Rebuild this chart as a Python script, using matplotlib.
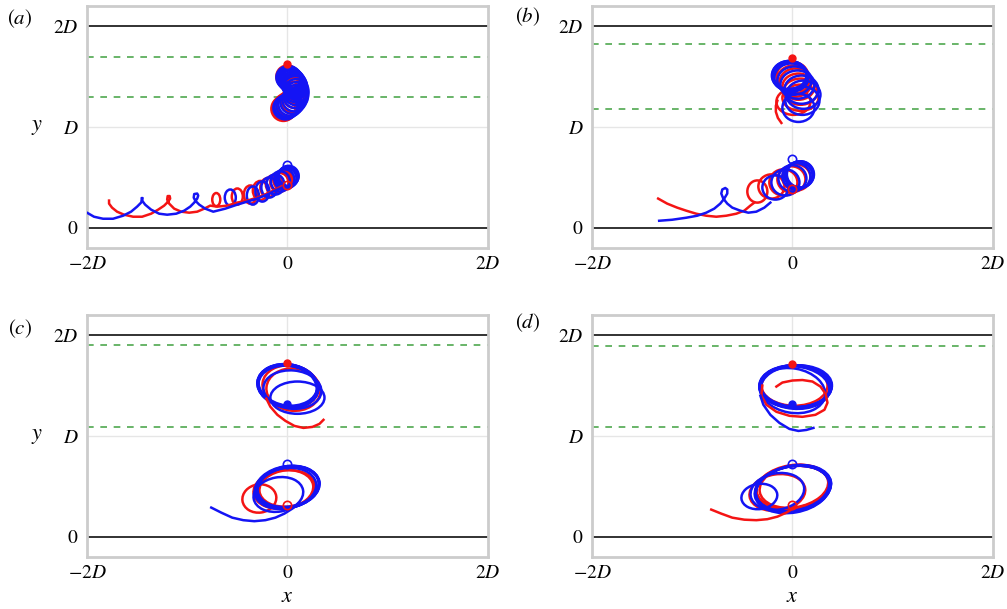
import numpy as np
import matplotlib.pyplot as plt
from matplotlib.patches import Ellipse

plt.rcParams['mathtext.fontset'] = 'stix'
plt.rcParams['font.family'] = 'STIXGeneral'

RED = '#f41414'
BLUE = '#1414f4'

# ---- panel (a) ----
# open parts of the paths (x, y) in units of D
a_low_blue_path = [(-2.00, 0.15), (-1.93, 0.11), (-1.84, 0.09), (-1.74, 0.09), (-1.64, 0.12),
                   (-1.56, 0.16), (-1.50, 0.21), (-1.46, 0.25), (-1.45, 0.28), (-1.445, 0.295),
                   (-1.455, 0.295), (-1.45, 0.27), (-1.42, 0.23), (-1.36, 0.18), (-1.28, 0.14),
                   (-1.20, 0.13), (-1.11, 0.14), (-1.03, 0.17), (-0.97, 0.21), (-0.93, 0.25),
                   (-0.90, 0.29), (-0.89, 0.32), (-0.90, 0.34), (-0.93, 0.335), (-0.935, 0.30),
                   (-0.92, 0.27), (-0.88, 0.23), (-0.82, 0.19), (-0.74, 0.16), (-0.62, 0.19),
                   (-0.50, 0.23), (-0.40, 0.26), (-0.30, 0.29), (-0.20, 0.33), (-0.12, 0.37),
                   (-0.05, 0.40)]
a_low_red_path = [(-1.78, 0.27), (-1.78, 0.24), (-1.75, 0.20), (-1.70, 0.16), (-1.63, 0.13),
                  (-1.54, 0.11), (-1.45, 0.11), (-1.36, 0.14), (-1.29, 0.18), (-1.23, 0.22),
                  (-1.19, 0.26), (-1.17, 0.29), (-1.175, 0.315), (-1.195, 0.315), (-1.20, 0.28),
                  (-1.18, 0.24), (-1.13, 0.19), (-1.06, 0.16), (-0.98, 0.15), (-0.90, 0.16),
                  (-0.83, 0.19), (-0.77, 0.22), (-0.70, 0.21), (-0.60, 0.22), (-0.50, 0.25),
                  (-0.40, 0.27), (-0.30, 0.30), (-0.20, 0.34), (-0.12, 0.38), (-0.06, 0.41)]
# loops (cx, cy, rx, ry, angle)
a_low_blue_loops = [(-0.57, 0.30, 0.055, 0.08, 0), (-0.345, 0.32, 0.06, 0.09, 0),
                    (-0.25, 0.36, 0.07, 0.10, 0), (-0.18, 0.40, 0.08, 0.10, 0),
                    (-0.12, 0.43, 0.09, 0.10, 0), (-0.07, 0.46, 0.095, 0.10, 0),
                    (-0.03, 0.48, 0.10, 0.10, 0), (-0.01, 0.49, 0.10, 0.10, 0),
                    (0.00, 0.50, 0.10, 0.10, 0), (0.005, 0.505, 0.10, 0.10, 0),
                    (0.01, 0.51, 0.10, 0.10, 0), (0.012, 0.515, 0.10, 0.10, 0)]
a_low_red_loops = [(-0.71, 0.28, 0.04, 0.065, 0), (-0.50, 0.31, 0.055, 0.08, 0),
                   (-0.37, 0.33, 0.065, 0.09, 0), (-0.27, 0.37, 0.075, 0.095, 0),
                   (-0.19, 0.40, 0.08, 0.095, 0), (-0.13, 0.43, 0.085, 0.095, 0),
                   (-0.08, 0.45, 0.09, 0.095, 0), (-0.05, 0.47, 0.09, 0.09, 0),
                   (-0.03, 0.48, 0.085, 0.085, 0)]
a_up_blue_loops = [(0.01, 1.49, 0.12, 0.115, 0), (0.02, 1.48, 0.12, 0.115, 0),
                   (0.03, 1.47, 0.12, 0.115, 0), (0.04, 1.46, 0.12, 0.115, 0),
                   (0.05, 1.45, 0.12, 0.115, 0), (0.06, 1.435, 0.12, 0.115, 0),
                   (0.07, 1.42, 0.12, 0.115, 0), (0.075, 1.405, 0.12, 0.115, 0),
                   (0.08, 1.39, 0.12, 0.115, 0), (0.09, 1.36, 0.12, 0.115, 0),
                   (0.09, 1.33, 0.12, 0.115, 0), (0.085, 1.30, 0.12, 0.115, 0),
                   (0.07, 1.27, 0.12, 0.115, 0), (0.05, 1.245, 0.12, 0.115, 0),
                   (0.03, 1.225, 0.12, 0.115, 0), (0.01, 1.21, 0.12, 0.115, 0),
                   (-0.01, 1.20, 0.12, 0.115, 0), (-0.02, 1.19, 0.12, 0.115, 0)]
a_up_red_loops = [(0.00, 1.50, 0.11, 0.11, 0), (0.03, 1.46, 0.11, 0.11, 0),
                  (0.06, 1.42, 0.11, 0.11, 0), (0.075, 1.38, 0.11, 0.11, 0),
                  (0.08, 1.34, 0.11, 0.11, 0), (0.07, 1.30, 0.11, 0.11, 0),
                  (0.05, 1.26, 0.115, 0.115, 0), (0.02, 1.23, 0.12, 0.12, 0),
                  (-0.01, 1.21, 0.12, 0.12, 0), (-0.03, 1.19, 0.12, 0.12, 0),
                  (-0.04, 1.18, 0.12, 0.12, 0)]

# ---- panel (b) ----
b_up_red_path = [(-0.11, 1.04), (-0.145, 1.09), (-0.165, 1.15), (-0.165, 1.21), (-0.15, 1.26)]
b_up_blue_loops = [(0.06, 1.19, 0.16, 0.14, 0), (0.10, 1.26, 0.17, 0.14, 0),
                   (0.11, 1.32, 0.17, 0.14, 0), (0.09, 1.37, 0.17, 0.14, 0),
                   (0.05, 1.42, 0.17, 0.14, 0), (0.02, 1.46, 0.17, 0.14, 0),
                   (-0.01, 1.49, 0.17, 0.14, 0), (-0.02, 1.50, 0.175, 0.145, 0),
                   (-0.025, 1.505, 0.175, 0.145, 0), (-0.03, 1.51, 0.175, 0.145, 0),
                   (-0.03, 1.515, 0.17, 0.14, 0)]
b_up_red_loops = [(0.01, 1.25, 0.17, 0.13, 0), (0.08, 1.29, 0.18, 0.13, 0),
                  (0.08, 1.35, 0.17, 0.13, 0), (0.06, 1.40, 0.16, 0.13, 0),
                  (0.03, 1.44, 0.16, 0.14, 0), (0.01, 1.47, 0.16, 0.14, 0),
                  (0.00, 1.50, 0.16, 0.145, 0)]
b_low_blue_path = [(-1.33, 0.07), (-1.20, 0.08), (-1.06, 0.10), (-0.95, 0.12), (-0.86, 0.15),
                   (-0.78, 0.19), (-0.72, 0.24), (-0.68, 0.29), (-0.65, 0.34), (-0.65, 0.38),
                   (-0.67, 0.395), (-0.70, 0.38), (-0.71, 0.34), (-0.69, 0.29), (-0.65, 0.24),
                   (-0.60, 0.20), (-0.52, 0.17), (-0.44, 0.15), (-0.36, 0.16), (-0.28, 0.20),
                   (-0.22, 0.25)]
b_low_red_path = [(-1.34, 0.29), (-1.25, 0.24), (-1.15, 0.20), (-1.06, 0.17), (-0.96, 0.14),
                  (-0.86, 0.12), (-0.76, 0.11), (-0.66, 0.12), (-0.56, 0.14), (-0.48, 0.17),
                  (-0.42, 0.22), (-0.38, 0.25)]
b_low_blue_loops = [(-0.17, 0.40, 0.13, 0.12, 0), (-0.07, 0.45, 0.14, 0.13, 0),
                    (0.00, 0.49, 0.14, 0.13, 0), (0.04, 0.51, 0.14, 0.13, 0),
                    (0.06, 0.52, 0.14, 0.13, 0), (0.07, 0.525, 0.14, 0.13, 0),
                    (0.075, 0.53, 0.135, 0.13, 0), (0.08, 0.53, 0.135, 0.13, 0)]
b_low_red_loops = [(-0.35, 0.36, 0.10, 0.11, 0), (-0.21, 0.41, 0.13, 0.12, 0),
                   (-0.09, 0.45, 0.14, 0.13, 0), (-0.01, 0.48, 0.14, 0.13, 0),
                   (0.04, 0.50, 0.14, 0.13, 0)]

# ---- panel (c) ----
c_up_red_path = [(0.36, 1.16), (0.32, 1.12), (0.25, 1.09), (0.16, 1.08), (0.07, 1.10),
                 (-0.02, 1.15), (-0.10, 1.21), (-0.17, 1.29), (-0.21, 1.37)]
c_up_blue_loops = [(0.10, 1.38, 0.27, 0.16, 0), (0.05, 1.46, 0.29, 0.19, -5),
                   (0.01, 1.49, 0.30, 0.205, -8), (0.00, 1.50, 0.30, 0.21, -8),
                   (0.00, 1.505, 0.30, 0.205, -6), (0.005, 1.50, 0.305, 0.21, -9),
                   (0.00, 1.495, 0.295, 0.205, -10), (0.01, 1.50, 0.30, 0.20, -10)]
c_up_red_loops = [(0.06, 1.46, 0.27, 0.21, -5), (0.03, 1.49, 0.28, 0.21, -8)]
c_low_blue_path = [(-0.76, 0.29), (-0.66, 0.24), (-0.55, 0.19), (-0.44, 0.165), (-0.33, 0.155),
                   (-0.22, 0.165), (-0.12, 0.19), (-0.03, 0.23), (0.05, 0.28), (0.11, 0.33)]
c_low_blue_loops = [(-0.09, 0.42, 0.25, 0.17, 10), (-0.02, 0.48, 0.31, 0.20, 10),
                    (0.00, 0.49, 0.32, 0.20, 10), (0.00, 0.49, 0.315, 0.205, 12),
                    (0.01, 0.49, 0.315, 0.20, 11), (0.00, 0.495, 0.32, 0.205, 9),
                    (0.01, 0.50, 0.31, 0.20, 10)]
c_low_red_loops = [(-0.28, 0.38, 0.17, 0.14, 8), (-0.04, 0.47, 0.30, 0.19, 8),
                   (0.00, 0.48, 0.28, 0.18, 6)]

# ---- panel (d) ----
d_up_blue_path = [(0.21, 1.08), (0.14, 1.06), (0.06, 1.05), (-0.03, 1.07), (-0.13, 1.13),
                  (-0.22, 1.21), (-0.29, 1.31), (-0.32, 1.40)]
d_up_red_path = [(-0.16, 1.49), (-0.10, 1.53), (0.00, 1.55), (0.10, 1.555), (0.20, 1.54),
                 (0.28, 1.49), (0.33, 1.42), (0.35, 1.33), (0.32, 1.26), (0.23, 1.21),
                 (0.10, 1.19), (-0.03, 1.20), (-0.16, 1.24), (-0.26, 1.31), (-0.31, 1.40),
                 (-0.30, 1.50)]
d_up_blue_loops = [(0.00, 1.45, 0.33, 0.22, -10), (0.02, 1.48, 0.35, 0.21, -5),
                   (0.03, 1.49, 0.36, 0.21, 0), (0.03, 1.49, 0.36, 0.205, 1),
                   (0.035, 1.492, 0.355, 0.21, -1), (0.03, 1.495, 0.35, 0.205, -3),
                   (0.04, 1.49, 0.355, 0.21, 3)]
d_up_red_loops = [(0.02, 1.50, 0.33, 0.20, 0), (0.03, 1.49, 0.34, 0.21, 0)]
d_low_red_path = [(-0.81, 0.27), (-0.71, 0.23), (-0.60, 0.19), (-0.48, 0.17), (-0.36, 0.165),
                  (-0.25, 0.175), (-0.15, 0.20), (-0.06, 0.24), (0.02, 0.29)]
d_low_blue_loops = [(-0.33, 0.40, 0.18, 0.125, 8), (-0.15, 0.45, 0.27, 0.18, 10),
                    (0.00, 0.48, 0.37, 0.22, 10), (0.01, 0.48, 0.38, 0.22, 10),
                    (0.005, 0.475, 0.375, 0.225, 9), (0.01, 0.48, 0.38, 0.225, 11),
                    (0.00, 0.47, 0.38, 0.23, 10)]
d_low_red_loops = [(-0.15, 0.44, 0.28, 0.18, 8), (0.00, 0.50, 0.36, 0.21, 9),
                   (0.02, 0.50, 0.35, 0.21, 9), (0.00, 0.49, 0.37, 0.21, 8)]

# start markers: (red filled y, blue filled y, blue open y, red open y)
markers_y = {'a': (1.62, 1.42, 0.62, 0.42), 'b': (1.68, 1.36, 0.68, 0.38),
             'c': (1.72, 1.32, 0.72, 0.32), 'd': (1.71, 1.32, 0.72, 0.32)}
# green dashed lines per panel
green_y = {'a': (1.69, 1.30), 'b': (1.82, 1.18), 'c': (1.90, 1.09), 'd': (1.89, 1.09)}

xticks = [-2, 0, 2]
xticklabels = ['$-2D$', '$0$', '$2D$']
yticks = [0, 1, 2]
yticklabels = ['$0$', '$D$', '$2D$']

panels = {
    'a': dict(paths=[(a_low_red_path, RED), (a_low_blue_path, BLUE)],
              loops=[(a_up_red_loops, RED), (a_up_blue_loops, BLUE),
                     (a_low_red_loops, RED), (a_low_blue_loops, BLUE)]),
    'b': dict(paths=[(b_up_red_path, RED), (b_low_red_path, RED), (b_low_blue_path, BLUE)],
              loops=[(b_up_red_loops, RED), (b_up_blue_loops, BLUE),
                     (b_low_red_loops, RED), (b_low_blue_loops, BLUE)]),
    'c': dict(paths=[(c_up_red_path, RED), (c_low_blue_path, BLUE)],
              loops=[(c_up_red_loops, RED), (c_up_blue_loops, BLUE),
                     (c_low_red_loops, RED), (c_low_blue_loops, BLUE)]),
    'd': dict(paths=[(d_up_red_path, RED), (d_up_blue_path, BLUE), (d_low_red_path, RED)],
              loops=[(d_up_red_loops, RED), (d_up_blue_loops, BLUE),
                     (d_low_red_loops, RED), (d_low_blue_loops, BLUE)]),
}

fig = plt.figure(figsize=(10.07, 6.09), dpi=100)
pos = {'a': [0.0864, 0.5928, 0.398, 0.3974], 'b': [0.5879, 0.5928, 0.398, 0.3974],
       'c': [0.0864, 0.0854, 0.398, 0.3974], 'd': [0.5879, 0.0854, 0.398, 0.3974]}
label_pos = {'a': (0.020, 0.970), 'b': (0.524, 0.972), 'c': (0.020, 0.461), 'd': (0.524, 0.470)}
lw = 1.8

for key, p in panels.items():
    ax = fig.add_axes(pos[key])
    ax.set_xlim(-2, 2)
    ax.set_ylim(-0.2, 2.2)
    ax.axvline(0, color='#e6e6e6', lw=1, zorder=0)
    ax.axhline(1, color='#e6e6e6', lw=1, zorder=0)
    ax.axhline(0, color='#222222', lw=1.3, zorder=1)
    ax.axhline(2, color='#222222', lw=1.3, zorder=1)
    for gy in green_y[key]:
        ax.axhline(gy, color='#4fa84f', lw=1.2, dashes=(4, 4), zorder=1)

    for loops, col in p['loops']:
        for cx, cy, rx, ry, ang in loops:
            ax.add_patch(Ellipse((cx, cy), 2 * rx, 2 * ry, angle=ang, fill=False,
                                 ec=col, lw=lw, zorder=3))
    for path, col in p['paths']:
        arr = np.array(path)
        ax.plot(arr[:, 0], arr[:, 1], color=col, lw=lw, zorder=3)

    ry_f, by_f, by_o, ry_o = markers_y[key]
    ax.plot(0, ry_f, 'o', color=RED, ms=5, zorder=4)
    ax.plot(0, by_f, 'o', color=BLUE, ms=5, zorder=4)
    ax.plot(0, by_o, 'o', mfc='none', mec=BLUE, ms=6, mew=1.2, zorder=4)
    ax.plot(0, ry_o, 'o', mfc='none', mec=RED, ms=6, mew=1.2, zorder=4)

    ax.set_xticks(xticks)
    ax.set_xticklabels(xticklabels)
    ax.set_yticks(yticks)
    ax.set_yticklabels(yticklabels)
    ax.tick_params(length=0, labelsize=14, pad=6)
    for s in ax.spines.values():
        s.set_color('#cccccc')
        s.set_linewidth(2)
    if key in ('a', 'c'):
        ax.set_ylabel('$y$', rotation=0, fontsize=16, va='center', ha='center')
        ax.yaxis.set_label_coords(-0.125, 0.5)
    if key in ('c', 'd'):
        ax.set_xlabel('$x$', fontsize=16, va='center')
        ax.xaxis.set_label_coords(0.5, -0.165)
    fig.text(label_pos[key][0], label_pos[key][1], '$(%s)$' % key, fontsize=15,
             ha='center', va='center')

fig.savefig('out.png', dpi=100)
